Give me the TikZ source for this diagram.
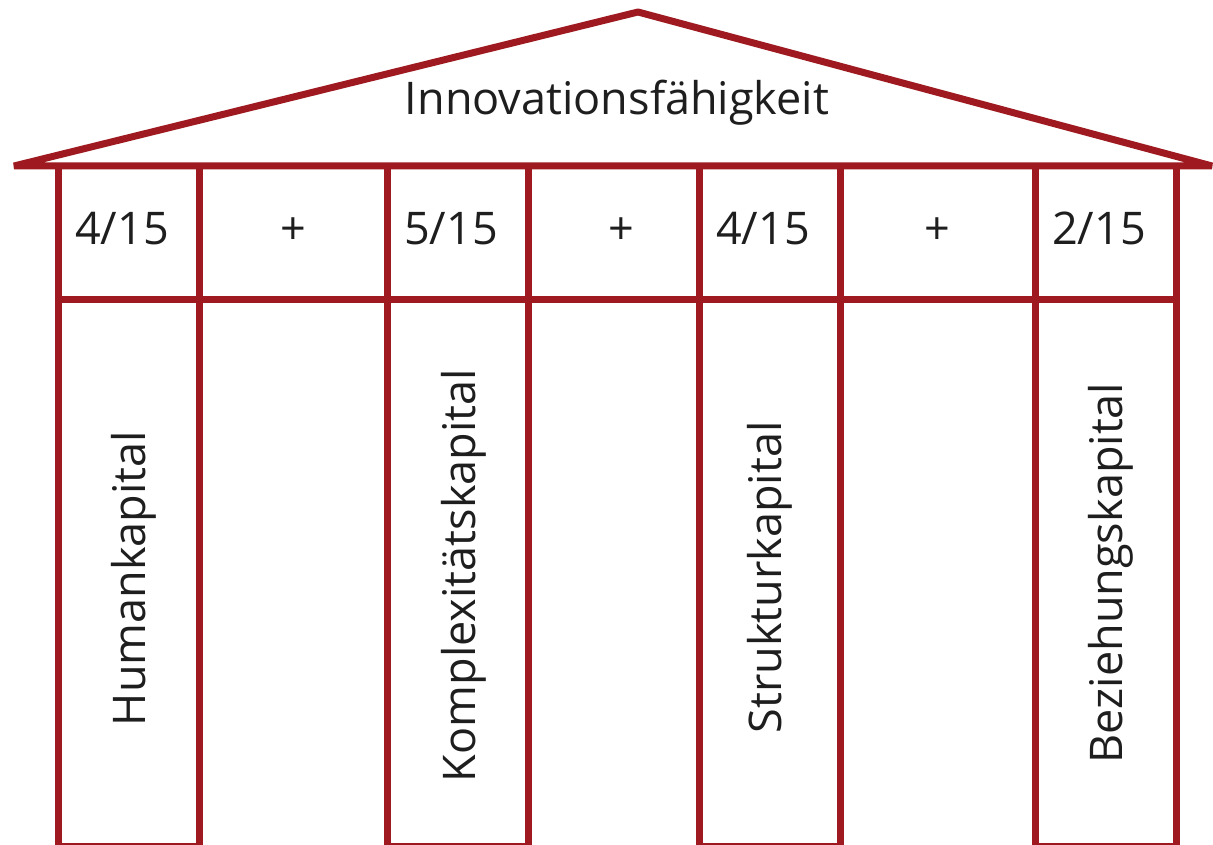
\documentclass[tikz,border=0pt]{standalone}
\usepackage{fontspec}
\setmainfont{Open Sans}
\definecolor{pillar}{RGB}{158,26,32}
\definecolor{ink}{RGB}{30,30,30}
\begin{document}
\begin{tikzpicture}[x=1pt,y=-1pt]
\tikzset{
  wall/.style={draw=pillar, line width=7pt},
  lbl/.style={text=ink, font=\fontsize{45}{54}\selectfont, inner sep=0pt},
  vlbl/.style={lbl, rotate=90, anchor=base},
}
\useasboundingbox (0,0) rectangle (1213,845);
% roof
\draw[wall, line join=bevel] (14,166) -- (638,12) -- (1212,166) -- cycle;
% top row of the columns
\foreach \x in {58.5,199,387,528,699.5,840,1035,1176}
  \draw[wall] (\x,166) -- (\x,299);
\draw[wall] (58.5,299) -- (1176,299);
% pillars
\foreach \a/\b in {58.5/199,387/528,699.5/840,1035/1176}
  \draw[wall] (\a,299) rectangle (\b,846);
% texts
\node[lbl, anchor=base] (title) at (617,115) {Innovationsfähigkeit};
\node[lbl, anchor=base] (w1) at (122,245) {4/15};
\node[lbl, anchor=base] (p1) at (293.5,245) {+};
\node[lbl, anchor=base] (w2) at (451,245) {5/15};
\node[lbl, anchor=base] (p2) at (621,245) {+};
\node[lbl, anchor=base] (w3) at (763,245) {4/15};
\node[lbl, anchor=base] (p3) at (937,245) {+};
\node[lbl, anchor=base] (w4) at (1099,245) {2/15};
\node[vlbl] (human) at (145,578.5) {Humankapital};
\node[vlbl] (komplex) at (475,575.5) {Komplexitätskapital};
\node[vlbl] (struktur) at (781,577.5) {Strukturkapital};
\node[vlbl] (bezieh) at (1122,573) {Beziehungskapital};
\end{tikzpicture}
\end{document}
